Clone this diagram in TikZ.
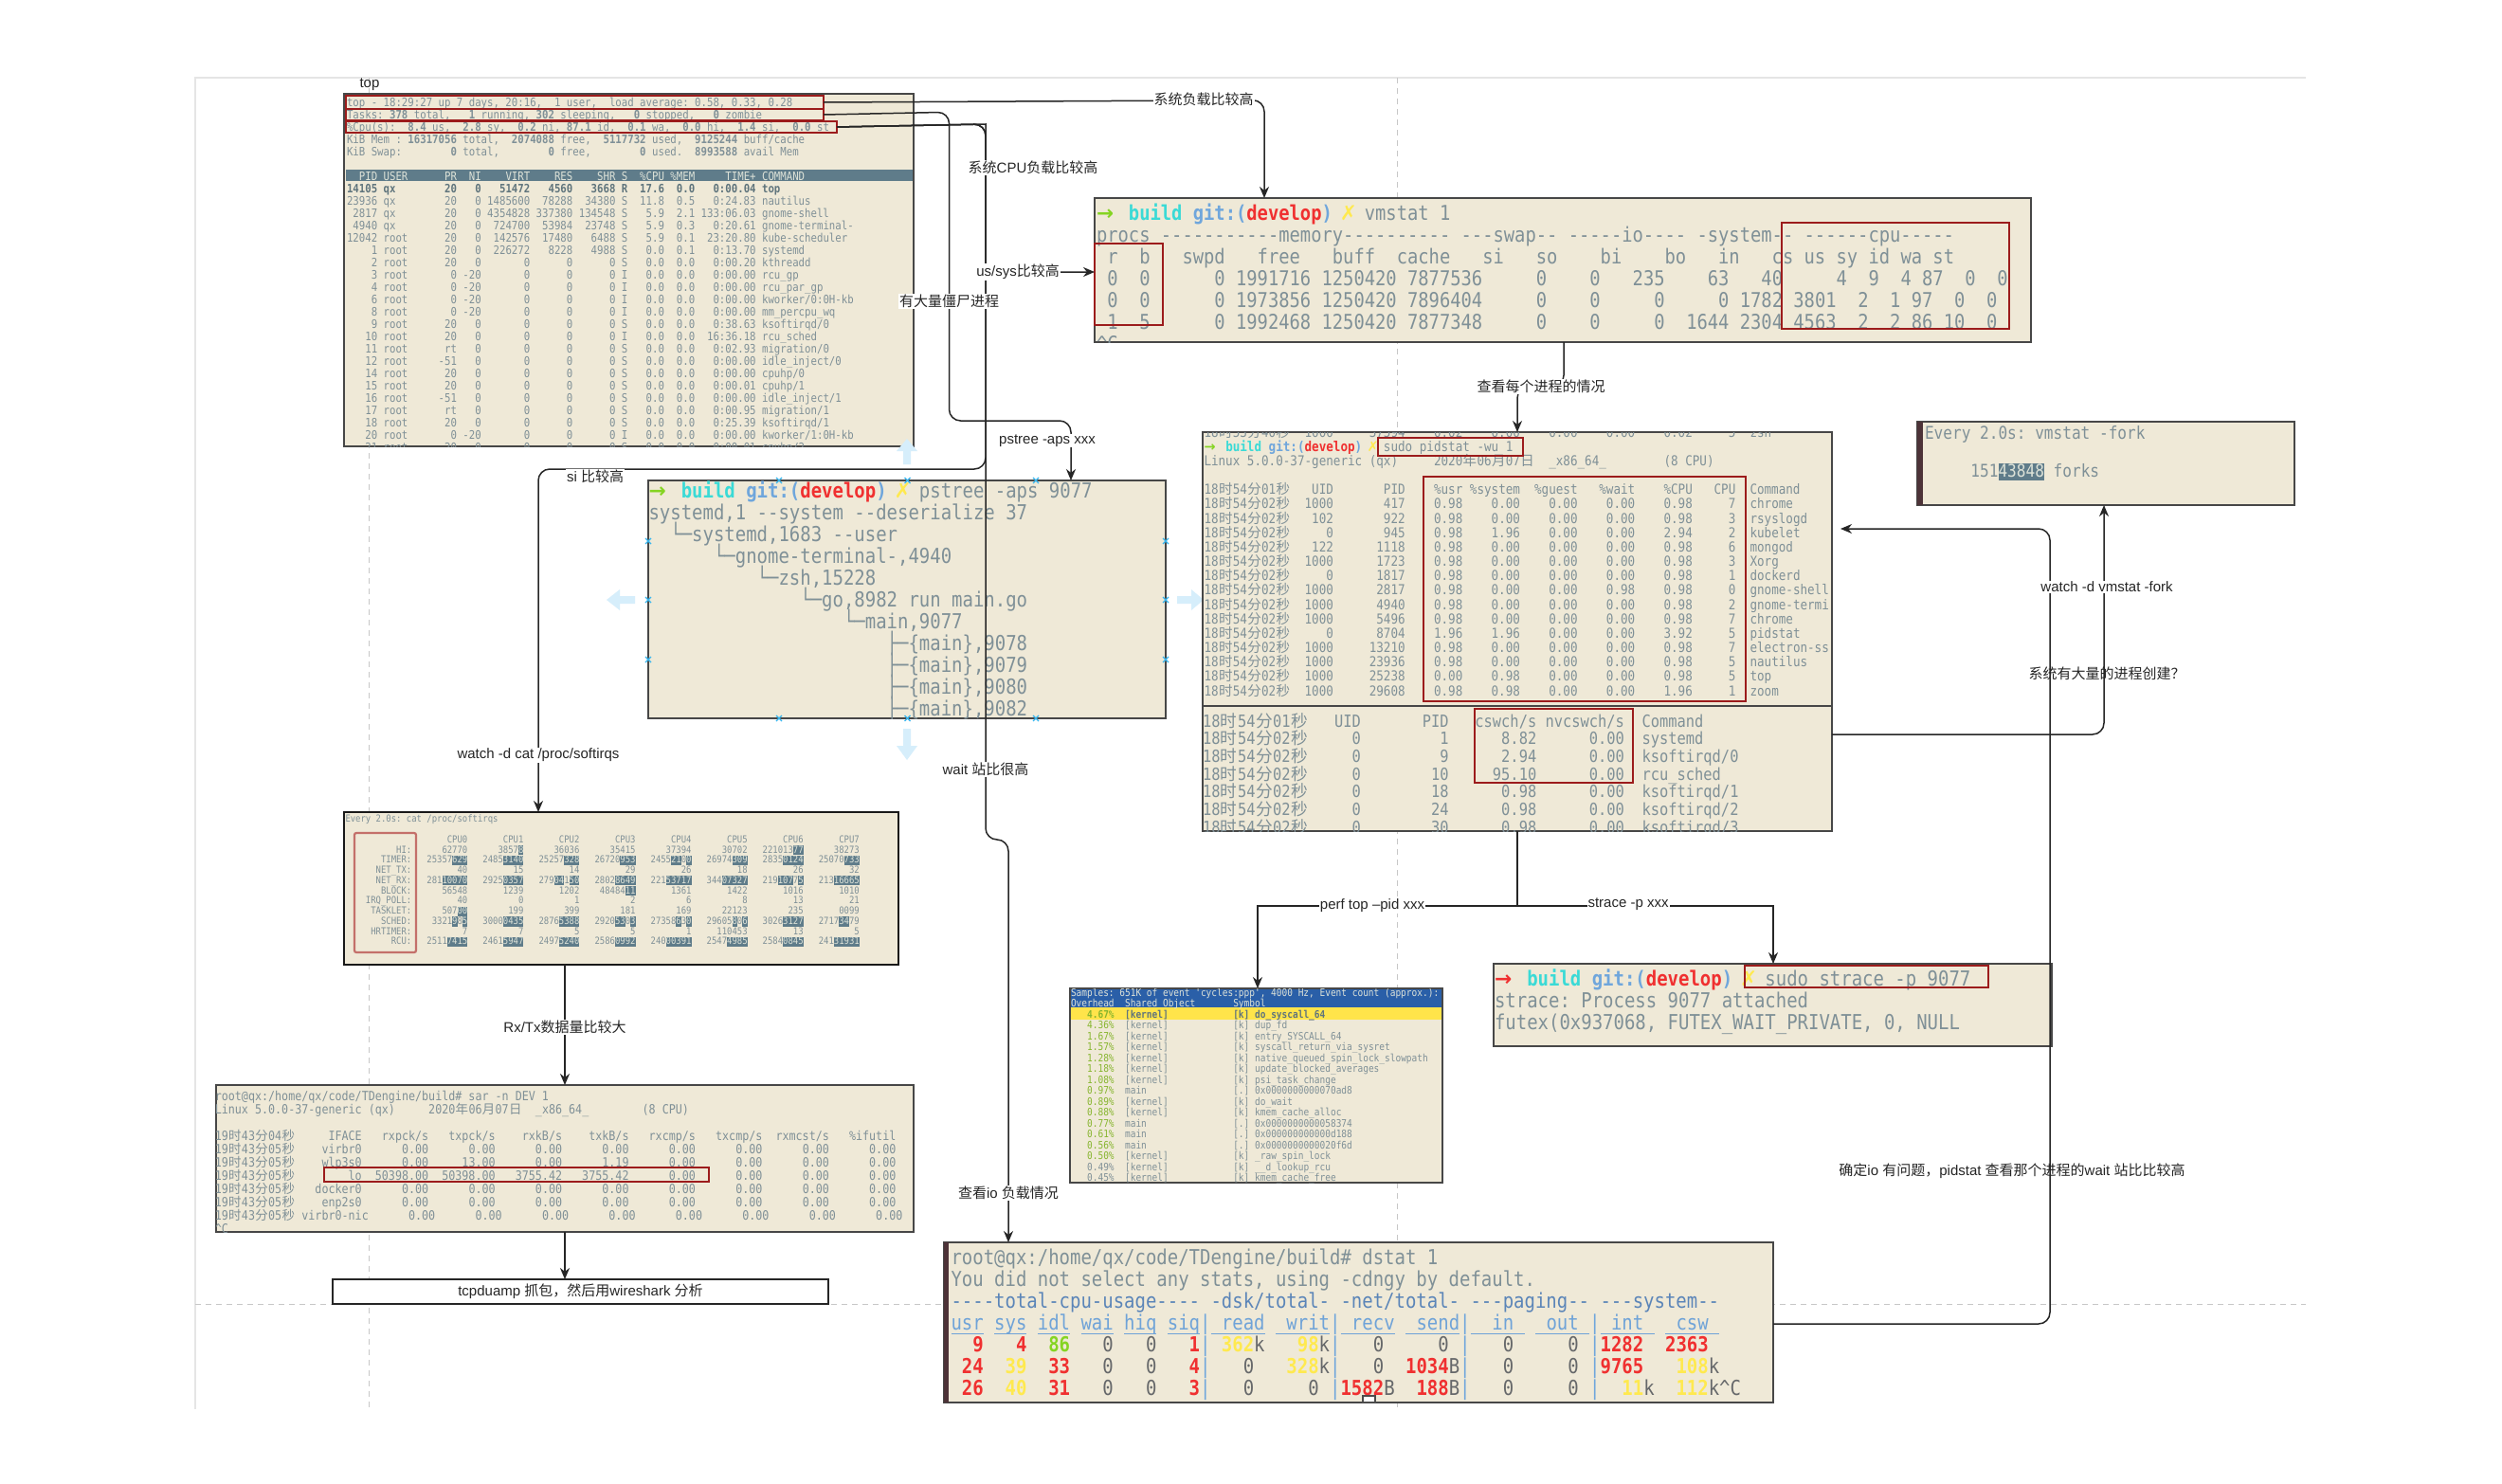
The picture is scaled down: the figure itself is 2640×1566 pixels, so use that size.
\documentclass[tikz,border=0pt]{standalone}
\usepackage{fontspec}
\usetikzlibrary{arrows.meta,fit}
\setmainfont{Liberation Sans}
\newfontfamily\cjk{Noto Sans CJK SC}
\newfontfamily\tmfont[FakeStretch=0.87]{DejaVu Sans Mono}
\newfontfamily\symf{DejaVu Sans}
\definecolor{tbg}{HTML}{EFE9D7}
\definecolor{tx}{HTML}{7F9097}
\definecolor{txb}{HTML}{5F747C}
\definecolor{hlbg}{HTML}{5F7C8A}
\definecolor{hlfg}{HTML}{DDE2D8}
\definecolor{redb}{HTML}{9C1C1C}
\definecolor{reds}{HTML}{C4706A}
\definecolor{pgreen}{HTML}{85D422}
\definecolor{pcyan}{HTML}{3ADAD6}
\definecolor{pblue}{HTML}{6FA6DC}
\definecolor{pred}{HTML}{F03030}
\definecolor{pyellow}{HTML}{FFE94F}
\definecolor{dgrey}{HTML}{66686A}
\definecolor{dsthd}{HTML}{5B85B8}
\definecolor{dstul}{HTML}{6FA3D8}
\definecolor{perfb}{HTML}{2A5FA8}
\definecolor{perfy}{HTML}{FFE44A}
\definecolor{perfg}{HTML}{86B52E}
\definecolor{ghost}{HTML}{D6EEFB}
\definecolor{handle}{HTML}{35B5EE}
\definecolor{strip}{HTML}{4D3338}
\newdimen\tcw
\makeatletter
\begingroup
\catcode`\^^M=\active%
\catcode`\ =\active%
\gdef\termsetup{\catcode`\ =\active\catcode`\^^M=\active\def {\kern\tcw}\def^^M{\egroup\hbox\bgroup}}%
\endgroup
\makeatother
\newcommand\term[2]{\vtop\bgroup\tmfont\fontsize{#1}{#2}\selectfont\setbox0\hbox{x}\tcw=\wd0\relax\baselineskip=#2\relax\lineskiplimit=-1000pt\lineskip=0pt\termsetup\setbox0\hbox\bgroup}
\def\endterm{\egroup\egroup}
\newcommand\K{\kern\tcw}
\newcommand\B[1]{{\bfseries #1}}
\newcommand\rr[2]{\hbox to #1\tcw{\hss#2}}
\newcommand\lft[2]{\hbox to #1\tcw{#2\hss}}
\newcommand\zc[1]{\hbox to 2\tcw{\hss{\cjk #1}\hss}}
\newcommand\HMS[3]{#1\zc{时}#2\zc{分}#3\zc{秒}}
\newcommand\DAY[3]{#1\zc{年}#2\zc{月}#3\zc{日}}
\newcommand\HLt[1]{\setbox2\hbox{#1}\rlap{\textcolor{hlbg}{\vrule width\wd2 height 1.5\tcw depth 0.4\tcw}}\textcolor{hlfg}{#1}}
\newcommand\gitp[1]{\hbox to 3\tcw{\textcolor{#1}{\symf\B{→}}\hss}\textcolor{pcyan}{\B{build}}\K\textcolor{pblue}{\B{git:(}}\textcolor{pred}{\B{develop}}\textcolor{pblue}{\B{)}}\K\hbox to \tcw{\hss\textcolor{pyellow}{\symf\B{✗}}\hss}}
\newcommand\cc[1]{\rr{11}{#1}}
\newcommand\PR[9]{\HMS{18}{54}{02}\rr{6}{#1}\rr{10}{#2}\rr{8}{#3}\rr{8}{#4}\rr{8}{#5}\rr{8}{#6}\rr{8}{#7}\rr{6}{#8}\K\K{}#9}
\newcommand\PW[5]{\HMS{18}{54}{02}\rr{6}{#1}\rr{10}{#2}\rr{10}{#3}\rr{10}{#4}\K\K{}#5}
\newcommand\SR[9]{\HMS{19}{43}{05}\rr{10}{#1}\rr{10}{#2}\rr{10}{#3}\rr{10}{#4}\rr{10}{#5}\rr{10}{#6}\rr{10}{#7}\rr{10}{#8}\rr{10}{#9}}
\newcommand\PF[4]{\rr{8}{\textcolor{perfg}{#1\%}}\K\K\lft{20}{#2}#3\K{}#4}
\newcommand\PFg[4]{\rr{8}{#1\%}\K\K\lft{20}{#2}#3\K{}#4}
\newcommand\Rd[1]{\textcolor{pred}{\B{#1}}}
\newcommand\Yl[1]{\textcolor{pyellow}{\B{#1}}}
\newcommand\Gn[1]{\textcolor{pgreen}{\B{#1}}}
\newcommand\Bl[1]{\textcolor{pblue}{#1}}
\newcommand\UL[1]{\setbox2\hbox{#1}\rlap{\textcolor{dstul}{\vrule width\wd2 height -0.32\tcw depth 0.47\tcw}}\textcolor{dstul}{#1}}
\tikzset{
  tbox/.style={draw=black!72,line width=2pt,fill=tbg,inner sep=0pt,outer sep=0pt},
  redbox/.style={draw=redb,line width=2.4pt,inner sep=0pt,outer sep=0pt},
  softred/.style={draw=reds,line width=2.2pt,rounded corners=2pt,inner sep=0pt,outer sep=0pt},
  plainbox/.style={draw=black!85,line width=1.8pt,fill=white,inner sep=0pt,outer sep=0pt,font=\fontsize{15}{18}\selectfont},
  tt/.style={anchor=base west,inner sep=0pt,outer sep=0pt,text=tx},
  conn/.style={draw=black!85,line width=1.5pt,rounded corners=12pt,-{Stealth[length=12pt,width=10pt]}},
  connplain/.style={draw=black!85,line width=1.5pt,-{Stealth[length=12pt,width=10pt]}},
  lbl/.style={fill=white,inner sep=1pt,text=black!85,font=\fontsize{15}{18}\selectfont},
  lbln/.style={inner sep=1pt,text=black!85,font=\fontsize{15}{18}\selectfont},
  gridl/.style={draw=black!10,line width=1.6pt},
  gridd/.style={draw=black!22,line width=1pt,dash pattern=on 6pt off 5pt},
  ghostf/.style={fill=ghost,draw=none},
  hmark/.style={draw=handle,line width=1.3pt},
}
\begin{document}
\begin{tikzpicture}[x=1pt,y=-1pt]
\useasboundingbox (0,0) rectangle (2640,1566);
\fill[white] (0,0) rectangle (2640,1566);
% page frame of the drawing
\draw[gridl] (206,1487) -- (206,82) -- (2433,82);
\draw[gridd] (389,82) -- (389,1487);
\draw[gridd] (1474,82) -- (1474,1487);
\draw[gridd] (206,1376) -- (2433,1376);
% faded hover arrows round the selected box
\fill[ghostf] (670,629) -- (654,629) -- (654,622) -- (640,633) -- (654,644) -- (654,637) -- (670,637) -- cycle;
\fill[ghostf] (1242,629) -- (1257,629) -- (1257,622) -- (1270,633) -- (1257,644) -- (1257,637) -- (1242,637) -- cycle;
\fill[ghostf] (953,769) -- (953,787) -- (946,787) -- (957,802) -- (968,787) -- (961,787) -- (961,769) -- cycle;

% ---------- top
\node[tbox,fit={(363,99)(964,471)}] (top) {};
\fill[hlbg] (365,179) rectangle (963,191);
\begin{scope}
\clip (top.north west) rectangle (top.south east);
\node[tt] (toptxt) at (366,112.2) {\term{12.3pt}{13pt}
top - 18:29:27 up 7 days, 20:16,  1 user,  load average: 0.58, 0.33, 0.28
Tasks: \B{378} total,   \B{1} running, \B{302} sleeping,   \B{0} stopped,   \B{0} zombie
\%Cpu(s):  \B{8.4} us,  \B{2.8} sy,  \B{0.2} ni, \B{87.1} id,  \B{0.1} wa,  \B{0.0} hi,  \B{1.4} si,  \B{0.0} st
KiB Mem : \B{16317056} total,  \B{2074088} free,  \B{5117732} used,  \B{9125244} buff/cache
KiB Swap:        \B{0} total,        \B{0} free,        \B{0} used.  \B{8993588} avail Mem

\textcolor{hlfg}{  PID USER      PR  NI    VIRT    RES    SHR S  \%CPU \%MEM     TIME+ COMMAND}
\textcolor{txb}{\B{14105 qx        20   0   51472   4560   3668 R  17.6  0.0   0:00.04 top}}
23936 qx        20   0 1485600  78288  34380 S  11.8  0.5   0:24.83 nautilus
 2817 qx        20   0 4354828 337380 134548 S   5.9  2.1 133:06.03 gnome-shell
 4940 qx        20   0  724700  53984  23748 S   5.9  0.3   0:20.61 gnome-terminal-
12042 root      20   0  142576  17480   6488 S   5.9  0.1  23:20.80 kube-scheduler
    1 root      20   0  226272   8228   4988 S   0.0  0.1   0:13.70 systemd
    2 root      20   0       0      0      0 S   0.0  0.0   0:00.20 kthreadd
    3 root       0 -20       0      0      0 I   0.0  0.0   0:00.00 rcu\_gp
    4 root       0 -20       0      0      0 I   0.0  0.0   0:00.00 rcu\_par\_gp
    6 root       0 -20       0      0      0 I   0.0  0.0   0:00.00 kworker/0:0H-kb
    8 root       0 -20       0      0      0 I   0.0  0.0   0:00.00 mm\_percpu\_wq
    9 root      20   0       0      0      0 S   0.0  0.0   0:38.63 ksoftirqd/0
   10 root      20   0       0      0      0 I   0.0  0.0  16:36.18 rcu\_sched
   11 root      rt   0       0      0      0 S   0.0  0.0   0:02.93 migration/0
   12 root     -51   0       0      0      0 S   0.0  0.0   0:00.00 idle\_inject/0
   14 root      20   0       0      0      0 S   0.0  0.0   0:00.00 cpuhp/0
   15 root      20   0       0      0      0 S   0.0  0.0   0:00.01 cpuhp/1
   16 root     -51   0       0      0      0 S   0.0  0.0   0:00.00 idle\_inject/1
   17 root      rt   0       0      0      0 S   0.0  0.0   0:00.95 migration/1
   18 root      20   0       0      0      0 S   0.0  0.0   0:25.39 ksoftirqd/1
   20 root       0 -20       0      0      0 I   0.0  0.0   0:00.00 kworker/1:0H-kb
   21 root      20   0       0      0      0 S   0.0  0.0   0:00.01 cpuhp/2
\endterm};
\end{scope}
\node[redbox,fit={(365,101)(869,115)}] (rA) {};
\node[redbox,fit={(365,115)(869,127)}] (rB) {};
\node[redbox,fit={(365,128)(883,140)}] (rC) {};

% ---------- vmstat
\node[tbox,fit={(1155,209)(2143,361)}] (vmstat) {};
\begin{scope}
\clip (vmstat.north west) rectangle (vmstat.south east);
\node[tt] (vmtxt) at (1157,232) {\term{21.6pt}{23pt}
\gitp{pgreen}\K{}vmstat 1
procs -----------memory---------- ---swap-- -----io---- -system-- ------cpu-----
 r  b   swpd   free   buff  cache   si   so    bi    bo   in   cs us sy id wa st
 0  0      0 1991716 1250420 7877536     0    0   235    63   40     4  9  4 87  0  0
 0  0      0 1973856 1250420 7896404     0    0     0     0 1782 3801  2  1 97  0  0
 1  5      0 1992468 1250420 7877348     0    0     0  1644 2304 4563  2  2 86 10  0
\textasciicircum{}C
\endterm};
\end{scope}
\node[redbox,fit={(1155,257)(1227,343)}] (rVa) {};
\node[redbox,fit={(1880,235)(2120,347)}] (rVb) {};

% ---------- pidstat
\node[tbox,fit={(1269,456)(1933,877)}] (pidstat) {};
\begin{scope}
\clip (pidstat.north west) rectangle (pidstat.south east);
\node[tt] (pstxt) at (1270.5,461.1) {\term{14.47pt}{15.17pt}
\HMS{18}{53}{40}\rr{6}{1000}\rr{10}{37594}\rr{8}{0.02}\rr{8}{0.00}\rr{8}{0.00}\rr{8}{0.00}\rr{8}{0.02}\rr{6}{5}\K\K{}zsh
\gitp{pgreen}\K{}sudo pidstat -wu 1
Linux 5.0.0-37-generic (qx)     \DAY{2020}{06}{07}  \_x86\_64\_        (8 CPU)

\HMS{18}{54}{01}\rr{6}{UID}\rr{10}{PID}\rr{8}{\%usr}\rr{8}{\%system}\rr{8}{\%guest}\rr{8}{\%wait}\rr{8}{\%CPU}\rr{6}{CPU}\K\K{}Command
\PR{1000}{417}{0.98}{0.00}{0.00}{0.00}{0.98}{7}{chrome}
\PR{102}{922}{0.98}{0.00}{0.00}{0.00}{0.98}{3}{rsyslogd}
\PR{0}{945}{0.98}{1.96}{0.00}{0.00}{2.94}{2}{kubelet}
\PR{122}{1118}{0.98}{0.00}{0.00}{0.00}{0.98}{6}{mongod}
\PR{1000}{1723}{0.98}{0.00}{0.00}{0.00}{0.98}{3}{Xorg}
\PR{0}{1817}{0.98}{0.00}{0.00}{0.00}{0.98}{1}{dockerd}
\PR{1000}{2817}{0.98}{0.00}{0.00}{0.98}{0.98}{0}{gnome-shell}
\PR{1000}{4940}{0.98}{0.00}{0.00}{0.00}{0.98}{2}{gnome-termi}
\PR{1000}{5496}{0.98}{0.00}{0.00}{0.00}{0.98}{7}{chrome}
\PR{0}{8704}{1.96}{1.96}{0.00}{0.00}{3.92}{5}{pidstat}
\PR{1000}{13210}{0.98}{0.00}{0.00}{0.00}{0.98}{7}{electron-ss}
\PR{1000}{23936}{0.98}{0.00}{0.00}{0.00}{0.98}{5}{nautilus}
\PR{1000}{25238}{0.00}{0.98}{0.00}{0.00}{0.98}{5}{top}
\PR{1000}{29608}{0.98}{0.98}{0.00}{0.00}{1.96}{1}{zoom}
\endterm};
\node[tt] (pstxtb) at (1269,767) {\term{17.7pt}{18.7pt}
\HMS{18}{54}{01}\rr{6}{UID}\rr{10}{PID}\rr{10}{cswch/s}\rr{10}{nvcswch/s}\K\K{}Command
\PW{0}{1}{8.82}{0.00}{systemd}
\PW{0}{9}{2.94}{0.00}{ksoftirqd/0}
\PW{0}{10}{95.10}{0.00}{rcu\_sched}
\PW{0}{18}{0.98}{0.00}{ksoftirqd/1}
\PW{0}{24}{0.98}{0.00}{ksoftirqd/2}
\PW{0}{30}{0.98}{0.00}{ksoftirqd/3}
\endterm};
\end{scope}
\draw[black!72,line width=2pt] (pidstat.west |- 0,745) -- (pidstat.east |- 0,745);
\node[redbox,fit={(1454,462)(1607,481)}] (rPa) {};
\node[redbox,fit={(1502,503)(1842,740)}] (rPb) {};
\node[redbox,fit={(1556,748)(1723,826)}] (rPc) {};

% ---------- fork
\node[tbox,fit={(2023,445)(2421,533)}] (fork) {};
\fill[strip] (2023,445) rectangle (2029,533);
\node[tt] (forktxt) at (2031,463.8) {\term{18.5pt}{19.67pt}
Every 2.0s: vmstat -fork

     151\HLt{43848} forks
\endterm};

% ---------- pstree
\node[tbox,fit={(684,507)(1230,758)}] (pstree) {};
\begin{scope}
\clip (pstree.north west) rectangle (pstree.south east);
\node[tt] (pttxt) at (684.5,525.7) {\term{21.8pt}{23pt}
\gitp{pgreen}\K{}pstree -aps 9077
systemd,1 --system --deserialize 37
  └─systemd,1683 --user
      └─gnome-terminal-,4940
          └─zsh,15228
              └─go,8982 run main.go
                  └─main,9077
                      ├─\{main\},9078
                      ├─\{main\},9079
                      ├─\{main\},9080
                      ├─\{main\},9082
\endterm};
\end{scope}

% ---------- softirqs
\node[tbox,draw=black!90,fit={(363,857)(948,1018)}] (softirq) {};
\node[tt] (sitxt) at (364.5,867.7) {\term{10.25pt}{10.77pt}
Every 2.0s: cat /proc/softirqs

\rr{13}{}\cc{CPU0}\cc{CPU1}\cc{CPU2}\cc{CPU3}\cc{CPU4}\cc{CPU5}\cc{CPU6}\cc{CPU7}
\rr{13}{HI:}\cc{62770}\cc{3857\HLt{8}}\cc{36036}\cc{35415}\cc{37394}\cc{30702}\cc{221013\HLt{77}}\cc{38273}
\rr{13}{TIMER:}\cc{25357\HLt{629}}\cc{2485\HLt{3140}}\cc{25257\HLt{328}}\cc{26720\HLt{953}}\cc{2455\HLt{21}0\HLt{0}}\cc{26974\HLt{309}}\cc{2835\HLt{0124}}\cc{25070\HLt{733}}
\rr{13}{NET\_TX:}\cc{40}\cc{15}\cc{14}\cc{29}\cc{26}\cc{18}\cc{26}\cc{32}
\rr{13}{NET\_RX:}\cc{281\HLt{10070}}\cc{2925\HLt{0357}}\cc{279\HLt{04}1\HLt{50}}\cc{2802\HLt{8649}}\cc{221\HLt{53717}}\cc{344\HLt{07327}}\cc{219\HLt{107}7\HLt{5}}\cc{213\HLt{16665}}
\rr{13}{BLOCK:}\cc{56548}\cc{1239}\cc{1202}\cc{48484\HLt{11}}\cc{1361}\cc{1422}\cc{1016}\cc{1010}
\rr{13}{IRQ\_POLL:}\cc{40}\cc{0}\cc{1}\cc{2}\cc{6}\cc{8}\cc{13}\cc{21}
\rr{13}{TASKLET:}\cc{507\HLt{00}}\cc{199}\cc{399}\cc{181}\cc{169}\cc{22123}\cc{235}\cc{0099}
\rr{13}{SCHED:}\cc{3321\HLt{9}8\HLt{5}}\cc{3000\HLt{0435}}\cc{2876\HLt{5388}}\cc{2920\HLt{53}0\HLt{3}}\cc{27358\HLt{6}3\HLt{0}}\cc{29605\HLt{8}0\HLt{6}}\cc{3026\HLt{3127}}\cc{2717\HLt{34}79}
\rr{13}{HRTIMER:}\cc{7}\cc{7}\cc{5}\cc{5}\cc{1}\cc{110453}\cc{13}\cc{5}
\rr{13}{RCU:}\cc{2511\HLt{7415}}\cc{2461\HLt{5947}}\cc{2497\HLt{5240}}\cc{2586\HLt{0992}}\cc{240\HLt{00391}}\cc{2547\HLt{4985}}\cc{2584\HLt{0845}}\cc{241\HLt{31931}}
\endterm};
\node[softred,fit={(374,879)(439,1005)}] (rS) {};

% ---------- sar
\node[tbox,fit={(228,1145)(964,1300)}] (sar) {};
\begin{scope}
\clip (sar.north west) rectangle (sar.south east);
\node[tt] (sartxt) at (226.8,1161.6) {\term{13.45pt}{14pt}
root@qx:/home/qx/code/TDengine/build\# sar -n DEV 1
Linux 5.0.0-37-generic (qx)     \DAY{2020}{06}{07}  \_x86\_64\_        (8 CPU)

\HMS{19}{43}{04}\rr{10}{IFACE}\rr{10}{rxpck/s}\rr{10}{txpck/s}\rr{10}{rxkB/s}\rr{10}{txkB/s}\rr{10}{rxcmp/s}\rr{10}{txcmp/s}\rr{10}{rxmcst/s}\rr{10}{\%ifutil}
\SR{virbr0}{0.00}{0.00}{0.00}{0.00}{0.00}{0.00}{0.00}{0.00}
\SR{wlp3s0}{0.00}{13.00}{0.00}{1.19}{0.00}{0.00}{0.00}{0.00}
\SR{lo}{50398.00}{50398.00}{3755.42}{3755.42}{0.00}{0.00}{0.00}{0.00}
\SR{docker0}{0.00}{0.00}{0.00}{0.00}{0.00}{0.00}{0.00}{0.00}
\SR{enp2s0}{0.00}{0.00}{0.00}{0.00}{0.00}{0.00}{0.00}{0.00}
\HMS{19}{43}{05}\rr{11}{virbr0-nic}\rr{10}{0.00}\rr{10}{0.00}\rr{10}{0.00}\rr{10}{0.00}\rr{10}{0.00}\rr{10}{0.00}\rr{10}{0.00}\rr{10}{0.00}
\textasciicircum{}C
\endterm};
\end{scope}
\node[redbox,fit={(342,1232)(748,1247)}] (rN) {};

% ---------- tcpdump
\node[plainbox,fit={(351,1350)(874,1376)}] (tcpd) {};
\node[lbln,inner sep=0pt] (tcpdt) at (tcpd.center) {tcpduamp {\cjk 抓包，然后用}wireshark {\cjk 分析}};

% ---------- perf
\node[tbox,fit={(1129,1043)(1522,1248)}] (perf) {};
\fill[perfb] (1130,1044) rectangle (1521,1063);
\fill[perfy] (1130,1063) rectangle (1521,1076);
\begin{scope}
\clip (perf.north west) rectangle (perf.south east);
\node[tt,text=tx] (pftxt) at (1130,1051) {\term{10.9pt}{11.5pt}
\textcolor{hlfg}{Samples: 651K of event 'cycles:ppp', 4000 Hz, Event count (approx.):}
\textcolor{hlfg}{Overhead  Shared Object       Symbol}
\textcolor{txb}{\B{\rr{8}{\textcolor{perfg}{4.67\%}}\K\K\lft{20}{[kernel]}[k]\K{}do\_syscall\_64}}
\PF{4.36}{[kernel]}{[k]}{dup\_fd}
\PF{1.67}{[kernel]}{[k]}{entry\_SYSCALL\_64}
\PF{1.57}{[kernel]}{[k]}{syscall\_return\_via\_sysret}
\PF{1.28}{[kernel]}{[k]}{native\_queued\_spin\_lock\_slowpath}
\PF{1.18}{[kernel]}{[k]}{update\_blocked\_averages}
\PF{1.08}{[kernel]}{[k]}{psi\_task\_change}
\PF{0.97}{main}{[.]}{0x0000000000070ad8}
\PF{0.89}{[kernel]}{[k]}{do\_wait}
\PF{0.88}{[kernel]}{[k]}{kmem\_cache\_alloc}
\PF{0.77}{main}{[.]}{0x0000000000058374}
\PF{0.61}{main}{[.]}{0x000000000000d188}
\PF{0.56}{main}{[.]}{0x0000000000020f6d}
\PF{0.50}{[kernel]}{[k]}{\_raw\_spin\_lock}
\PFg{0.49}{[kernel]}{[k]}{\_\_d\_lookup\_rcu}
\PFg{0.45}{[kernel]}{[k]}{kmem\_cache\_free}
\endterm};
\end{scope}

% ---------- strace
\node[tbox,fit={(1576,1017)(2165,1104)}] (strace) {};
\node[tt] (sttxt) at (1577,1040.3) {\term{21.8pt}{23pt}
\gitp{pred}\K{}sudo strace -p 9077
strace: Process 9077 attached
futex(0x937068, FUTEX\_WAIT\_PRIVATE, 0, NULL
\endterm};
\node[redbox,fit={(1841,1019)(2098,1042)}] (rT) {};

% ---------- dstat
\node[tbox,fit={(996,1311)(1871,1480)}] (dstat) {};
\fill[strip] (996,1311) rectangle (1001,1480);
\node[tt] (dstxt) at (1003.5,1334) {\term{21.8pt}{23pt}
root@qx:/home/qx/code/TDengine/build\# dstat 1
You did not select any stats, using -cdngy by default.
\textcolor{dsthd}{----total-cpu-usage---- -dsk/total- -net/total- ---paging-- ---system--}
\UL{usr} \UL{sys} \UL{idl} \UL{wai} \UL{hiq} \UL{siq}\Bl{|}\UL{ read} \UL{ writ}\Bl{|}\UL{ recv} \UL{ send}\Bl{|}\UL{  in } \UL{ out }\Bl{|}\UL{ int } \UL{ csw }
\textcolor{dgrey}{  \Rd{9}   \Rd{4}  \Gn{86}   0   0   \Rd{1}\Bl{|} \Yl{362}k   \Yl{98}k\Bl{|}   0     0 \Bl{|}   0     0 \Bl{|}\Rd{1282}  \Rd{2363}}
\textcolor{dgrey}{ \Rd{24}  \Yl{39}  \Rd{33}   0   0   \Rd{4}\Bl{|}   0   \Yl{328}k\Bl{|}   0  \Rd{1034}B\Bl{|}   0     0 \Bl{|}\Rd{9765}   \Yl{108}k}
\textcolor{dgrey}{ \Rd{26}  \Yl{40}  \Rd{31}   0   0   \Rd{3}\Bl{|}   0     0 \Bl{|}\Rd{1582}B  \Rd{188}B\Bl{|}   0     0 \Bl{|}  \Yl{11}k  \Yl{112}k\textasciicircum{}C}
\endterm};
\draw[black!70,line width=1.2pt,fill=white] (1438,1473) rectangle (1451,1480);

% ---------- connector helpers
\coordinate (xvm) at (1334,0);
\coordinate (xpt) at (1130,0);
\coordinate (xsi) at (568,0);
\coordinate (xds) at (1064,0);
\coordinate (xps) at (1601,0);
\coordinate (xvb) at (1650,0);
\coordinate (xst) at (1871,0);
\coordinate (xpf) at (1327,0);
\coordinate (xfk) at (2220,0);
\coordinate (xsr) at (596,0);
\coordinate (ypv) at (0,287);
\coordinate (yps) at (0,775);
\coordinate (yds) at (0,1397);
\coordinate (psin) at (1942,558);

% ---------- connectors
\draw[conn] (rA.east) -- (1334,105.7) -- (xvm |- vmstat.north);
\draw[conn] (rB.east) -- (1001.5,118.3) -- (1001.5,444) -- (1130,444) -- (xpt |- pstree.north);
\draw[conn] (rC.east) -- (1040,131) -- (1040,495) -- (568,495) -- (xsi |- softirq.north);
\draw[conn] (rC.east) -- (1040,131) -- (1040,886) -- (1064,886) -- (xds |- dstat.north);
\draw[connplain] (rC.east) -- (1040,131) -- (1040,287) -- (vmstat.west |- ypv);
\draw[conn] (xvb |- vmstat.south) -- (1650,408) -- (1601,408) -- (xps |- pidstat.north);
\draw[connplain] (xps |- pidstat.south) -- (1601,956) -- (1871,956) -- (xst |- strace.north);
\draw[connplain] (xps |- pidstat.south) -- (1601,956) -- (1327,956) -- (xpf |- perf.north);
\draw[conn] (pidstat.east |- yps) -- (2220,775) -- (xfk |- fork.south);
\draw[conn] (dstat.east |- yds) -- (2163,1397) -- (2163,558) -- (psin);
\draw[connplain] (xsr |- softirq.south) -- (xsr |- sar.north);
\draw[connplain] (xsr |- sar.south) -- (xsr |- tcpd.north);

% ---------- selection handles
\foreach \hx in {822,957.5,1093} \foreach \hy in {507,758}
  \draw[hmark] (\hx-3,\hy-3) -- (\hx+3,\hy+3) (\hx-3,\hy+3) -- (\hx+3,\hy-3);
\foreach \hx in {684,1230} \foreach \hy in {571,633,696}
  \draw[hmark] (\hx-3,\hy-3) -- (\hx+3,\hy+3) (\hx-3,\hy+3) -- (\hx+3,\hy-3);
\fill[ghostf] (953,490) -- (953,476) -- (946,476) -- (957,463) -- (968,476) -- (961,476) -- (961,490) -- cycle;

% ---------- labels
\node[lbln] (ltop) at (390,89) {top};
\node[lbl] (l1) at (1270,105) {\cjk 系统负载比较高};
\node[lbl] (l2) at (1090,177) {{\cjk 系统}CPU{\cjk 负载比较高}};
\node[lbl] (l3) at (1074,287) {us/sys{\cjk 比较高}};
\node[lbl] (l4) at (1001.5,318) {\cjk 有大量僵尸进程};
\node[lbl] (l5) at (1105,465) {pstree -aps xxx};
\node[lbl] (l6) at (628,503) {si {\cjk 比较高}};
\node[lbl] (l7) at (1626,408) {\cjk 查看每个进程的情况};
\node[lbl] (l8) at (568,797) {watch -d cat /proc/softirqs};
\node[lbl] (l9) at (1040,812) {wait {\cjk 站比很高}};
\node[lbl] (l10) at (596,1084) {Rx/Tx{\cjk 数据量比较大}};
\node[lbl] (l11) at (1448,956) {perf top --pid xxx};
\node[lbl] (l12) at (1718,954) {strace -p xxx};
\node[lbl] (l13) at (2223,619) {watch -d vmstat -fork};
\node[lbln] (l14) at (2223,711) {\cjk 系统有大量的进程创建？};
\node[lbln] (l15) at (2123,1236) {{\cjk 确定}io {\cjk 有问题，}pidstat {\cjk 查看那个进程的}wait {\cjk 站比比较高}};
\node[lbl] (l16) at (1064,1259) {{\cjk 查看}io {\cjk 负载情况}};
\end{tikzpicture}
\end{document}
